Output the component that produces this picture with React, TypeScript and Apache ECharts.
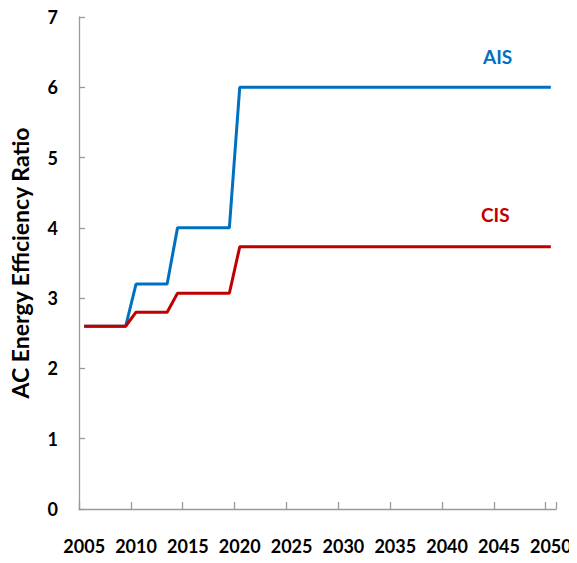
import React, { useEffect, useRef } from "react";
import * as echarts from "echarts";

const years: string[] = [];
for (let y = 2005; y <= 2050; y++) years.push(String(y));

// step values per period (start year inclusive)
const aisSteps: [number, number][] = [
  [2005, 2.6],
  [2010, 3.2],
  [2014, 4.0],
  [2020, 6.0],
];
const cisSteps: [number, number][] = [
  [2005, 2.6],
  [2010, 2.8],
  [2014, 3.07],
  [2020, 3.73],
];

function expand(steps: [number, number][]): number[] {
  return years.map((ys) => {
    const y = Number(ys);
    let v = steps[0][1];
    for (const [s, val] of steps) if (y >= s) v = val;
    return v;
  });
}

const aisValues = expand(aisSteps);
const cisValues = expand(cisSteps);

const FONT = "Lato, 'DejaVu Sans', sans-serif";
const BLUE = "#0070C0";
const RED = "#C00000";
const AXIS = "#9A9A9A";

export default function App() {
  const ref = useRef<HTMLDivElement>(null);
  useEffect(() => {
    if (!ref.current) return;
    const chart = echarts.init(ref.current, undefined, { renderer: "svg" });
    chart.setOption({
      animation: false,
      grid: { left: 79, right: 21, top: 17, bottom: 54 },
      xAxis: {
        type: "category",
        data: years,
        boundaryGap: true,
        axisLine: { lineStyle: { color: AXIS, width: 1.3 } },
        axisTick: { show: true, inside: true, length: 7, interval: 4, lineStyle: { color: AXIS, width: 1.3 } },
        axisLabel: {
          interval: 4,
          margin: 28,
          color: "#000",
          fontWeight: "bold",
          fontSize: 18,
          fontFamily: FONT,
        },
      },
      yAxis: {
        type: "value",
        min: 0,
        max: 7,
        interval: 1,
        name: "AC Energy Efficiency Ratio",
        nameLocation: "middle",
        nameGap: 48,
        nameTextStyle: { color: "#000", fontWeight: "bold", fontSize: 23, fontFamily: FONT },
        axisLine: { show: true, lineStyle: { color: AXIS, width: 1.3 } },
        axisTick: { show: true, inside: true, length: 6, lineStyle: { color: AXIS, width: 1.3 } },
        splitLine: { show: false },
        axisLabel: {
          margin: 21,
          color: "#000",
          fontWeight: "bold",
          fontSize: 18,
          fontFamily: FONT,
        },
      },
      series: [
        {
          name: "AIS",
          type: "line",
          data: aisValues,
          symbol: "none",
          lineStyle: { color: BLUE, width: 3 },
        },
        {
          name: "CIS",
          type: "line",
          data: cisValues,
          symbol: "none",
          lineStyle: { color: RED, width: 3 },
        },
      ],
      graphic: [
        {
          type: "text",
          left: 483,
          top: 47,
          style: { text: "AIS", fill: BLUE, font: `bold 19px ${FONT}` },
        },
        {
          type: "text",
          left: 481,
          top: 205,
          style: { text: "CIS", fill: RED, font: `bold 19px ${FONT}` },
        },
      ],
    });
    return () => chart.dispose();
  }, []);
  return <div ref={ref} style={{ width: 577, height: 563, margin: -8 }} />;
}
